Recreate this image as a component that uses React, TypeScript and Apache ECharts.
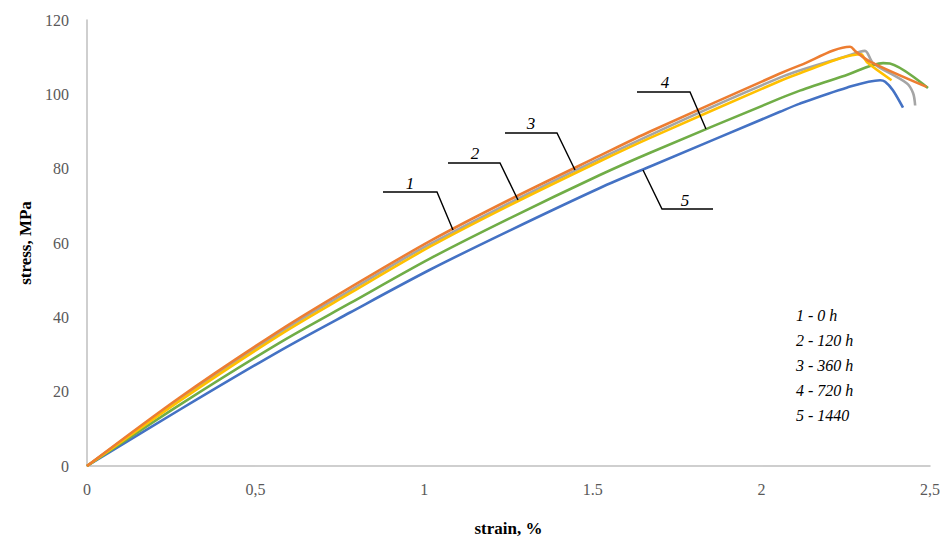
import React, { useEffect, useRef } from "react";
import * as echarts from "echarts";

// Curve 1 - 0 h (orange)
const strain1 = [0, 0.276, 0.572, 0.78, 1.017, 1.25, 1.521, 1.67, 2.055, 2.114, 2.263, 2.28, 2.322, 2.49];
const stress1 = [0, 18.5, 36.5, 48.0, 60.5, 71.5, 83.5, 90.0, 105.6, 107.8, 112.8, 111.5, 108.8, 102.0];
// Curve 2 - 120 h (yellow)
const strain2 = [0, 0.276, 0.572, 0.78, 1.017, 1.25, 1.521, 1.67, 2.055, 2.114, 2.297, 2.303, 2.316, 2.386];
const stress2 = [0, 17.6, 35.3, 46.5, 59.0, 70.0, 82.0, 88.3, 103.6, 105.7, 110.8, 110.0, 108.4, 103.8];
// Curve 3 - 360 h (grey)
const strain3 = [0, 0.276, 0.572, 0.78, 1.017, 1.521, 2.055, 2.25, 2.307, 2.331, 2.431, 2.45, 2.456];
const stress3 = [0, 18.0, 35.9, 47.2, 59.7, 82.7, 104.5, 110.2, 111.7, 108.4, 103.0, 100.3, 97.0];
// Curve 4 - 720 h (green)
const strain4 = [0, 0.276, 0.572, 0.78, 1.017, 1.25, 1.521, 1.67, 2.055, 2.114, 2.253, 2.361, 2.381, 2.494];
const stress4 = [0, 16.5, 33.2, 43.8, 55.8, 66.5, 78.3, 84.3, 98.9, 101.0, 105.2, 108.4, 108.3, 101.7];
// Curve 5 - 1440 (blue)
const strain5 = [0, 0.276, 0.572, 0.78, 1.017, 1.25, 1.521, 1.67, 2.055, 2.114, 2.253, 2.352, 2.367, 2.39, 2.42];
const stress5 = [0, 15.2, 31.0, 41.3, 52.8, 63.2, 74.8, 80.6, 95.3, 97.5, 101.8, 103.8, 103.4, 101.1, 96.4];

const seriesNames = ["1 - 0 h", "2 - 120 h", "3 - 360 h", "4 - 720 h", "5 - 1440"];
const xTickLabels = ["0", "0,5", "1", "1.5", "2", "2,5"];
const legendLines = ["1 - 0 h", "2 - 120 h", "3 - 360 h", "4 - 720 h", "5 - 1440"];
const curveNumbers = ["1", "2", "3", "4", "5"];

const pair = (xs: number[], ys: number[]) => xs.map((x, i) => [x, ys[i]]);

export default function App() {
  const ref = useRef<HTMLDivElement>(null);
  useEffect(() => {
    if (!ref.current) return;
    const chart = echarts.init(ref.current, null, { renderer: "svg" });
    const serif = "'Liberation Serif', 'Times New Roman', serif";
    const mk = (name: string, xs: number[], ys: number[], color: string) => ({
      name,
      type: "line",
      data: pair(xs, ys),
      showSymbol: false,
      smooth: 0.3,
      lineStyle: { color, width: 2.6 },
      itemStyle: { color },
    });
    const leaders: [number, number][][] = [
      [[383, 192], [437, 192], [453, 230]],
      [[448, 163], [500, 163], [518, 200]],
      [[505, 133], [557, 133], [575, 170]],
      [[637, 92], [690, 92], [706, 129]],
      [[643, 170], [662, 209], [713, 209]],
    ];
    const numPos: [number, number][] = [
      [410, 183], [475, 153], [531, 123], [665, 82], [685, 200],
    ];
    const graphic: any[] = [];
    leaders.forEach((pts) =>
      graphic.push({
        type: "polyline",
        shape: { points: pts },
        style: { stroke: "#000", lineWidth: 1.4, fill: "none" },
        z: 100,
      })
    );
    numPos.forEach((p, i) =>
      graphic.push({
        type: "text",
        x: p[0],
        y: p[1],
        style: {
          text: curveNumbers[i],
          font: `italic 17px ${serif}`,
          fill: "#000",
          align: "center",
          verticalAlign: "middle",
        },
        z: 100,
      })
    );
    legendLines.forEach((t, i) =>
      graphic.push({
        type: "text",
        x: 796,
        y: 315 + i * 25,
        style: {
          text: t,
          font: `italic 16px ${serif}`,
          fill: "#000",
          align: "left",
          verticalAlign: "middle",
        },
        z: 100,
      })
    );
    chart.setOption({
      animation: false,
      backgroundColor: "#fff",
      grid: { left: 87, right: 15, top: 20, bottom: 76 },
      xAxis: {
        type: "value",
        min: 0,
        max: 2.5,
        interval: 0.5,
        name: "strain, %",
        nameLocation: "middle",
        nameGap: 54,
        nameTextStyle: { fontFamily: serif, fontWeight: "bold", fontSize: 17, color: "#000" },
        axisLine: { show: true, lineStyle: { color: "#BFBFBF", width: 1.5 } },
        axisTick: { show: false },
        splitLine: { show: false },
        axisLabel: {
          margin: 15,
          fontFamily: serif,
          fontSize: 16,
          color: "#595959",
          formatter: (v: number) => xTickLabels[Math.round(v / 0.5)] ?? "",
        },
      },
      yAxis: {
        type: "value",
        min: 0,
        max: 120,
        interval: 20,
        name: "stress, MPa",
        nameLocation: "middle",
        nameGap: 45,
        nameTextStyle: { fontFamily: serif, fontWeight: "bold", fontSize: 17, color: "#000" },
        axisLine: { show: true, lineStyle: { color: "#BFBFBF", width: 1.5 } },
        axisTick: { show: false },
        splitLine: { show: false },
        axisLabel: { margin: 18, fontFamily: serif, fontSize: 16, color: "#595959" },
      },
      series: [
        mk(seriesNames[2], strain3, stress3, "#A5A5A5"),
        mk(seriesNames[4], strain5, stress5, "#4472C4"),
        mk(seriesNames[3], strain4, stress4, "#70AD47"),
        mk(seriesNames[1], strain2, stress2, "#FFC000"),
        mk(seriesNames[0], strain1, stress1, "#ED7D31"),
      ],
      graphic,
    });
    return () => chart.dispose();
  }, []);
  return (
    <div
      ref={ref}
      style={{ position: "fixed", left: 0, top: 0, width: 945, height: 542, background: "#fff" }}
    />
  );
}
